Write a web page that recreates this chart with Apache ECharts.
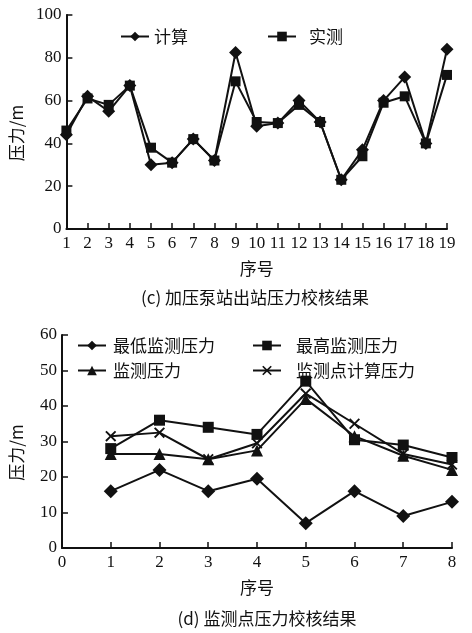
<!DOCTYPE html>
<html><head><meta charset="utf-8">
<script src="https://cdn.jsdelivr.net/npm/echarts@6/dist/echarts.min.js"></script>
<style>html,body{margin:0;padding:0;background:#fff}#c{width:472px;height:633px}</style>
</head><body><div id="c"></div>
<script>
// Chart (c)
const cX = [1,2,3,4,5,6,7,8,9,10,11,12,13,14,15,16,17,18,19];
const cCalc = [44,62,55,67,30,31,42,32,82.5,48,49.5,60,50,23,37,60,71,40,84];
const cMeas = [46,61,58,67,38,31,42,32,69,50,49.5,58,50,23,34,59,62,40,72];
const cNames = ['计算','实测'];
// Chart (d)
const dX = [1,2,3,4,5,6,7,8];
const dMin = [16,22,16,19.5,7,16,9,13];
const dMax = [28,36,34,32,47,30.5,29,25.5];
const dMon = [26.5,26.5,25,27.5,42,31.5,26,22];
const dCalc = [31.5,32.5,25,29.5,43.5,35,26.5,23.5];
const dNames = ['最低监测压力','最高监测压力','监测压力','监测点计算压力'];
const yName = '压力/m';
const xName = '序号';
const capC = '(c) 加压泵站出站压力校核结果';
const capD = '(d) 监测点压力校核结果';

const pair = (xs, ys) => xs.map((x,i)=>[x, ys[i]]);
const serif = "'Liberation Serif', 'DejaVu Serif', 'Times New Roman', serif";
const cjk = "'Noto Sans CJK SC', sans-serif";
const ink = '#111';
const X_SYM = 'path://M0,1.2 L1.2,0 L5,3.8 L8.8,0 L10,1.2 L6.2,5 L10,8.8 L8.8,10 L5,6.2 L1.2,10 L0,8.8 L3.8,5 Z';

function xAxis(gi, min, max){
  return {type:'value', gridIndex:gi, min, max, interval:1,
    name:xName, nameLocation:'middle', nameGap:31,
    nameTextStyle:{fontFamily:cjk, fontSize:17, color:ink},
    axisLine:{onZero:false, lineStyle:{color:ink, width:2}},
    axisTick:{inside:true, length:6, lineStyle:{color:ink, width:1.5}},
    axisLabel:{fontFamily:serif, fontSize:17, color:ink, margin:6},
    splitLine:{show:false}};
}
function yAxis(gi, min, max, interval){
  return {type:'value', gridIndex:gi, min, max, interval,
    name:yName, nameLocation:'middle', nameGap:37,
    nameTextStyle:{fontFamily:cjk, fontSize:17, color:ink, padding:[0,22,0,0]},
    axisLine:{show:true, lineStyle:{color:ink, width:2}},
    axisTick:{show:true, inside:true, length:6, lineStyle:{color:ink, width:1.5}},
    axisLabel:{fontFamily:serif, fontSize:17, color:ink, margin:5},
    splitLine:{show:false}};
}
function ser(name, gi, data, symbol, size){
  return {name, type:'line', xAxisIndex:gi, yAxisIndex:gi, data, symbol, symbolSize:size,
    lineStyle:{color:ink, width:2}, itemStyle:{color:ink, borderColor:ink, borderWidth:0},
    emphasis:{disabled:true}, animation:false, z: 3};
}
function leg(name, left, top, pad){
  return {data:[name], left, top, itemWidth:28, itemHeight:12, itemGap:5,
    textStyle:{fontFamily:cjk, fontSize:17, color:ink, padding:[0,0,0,pad]}, selectedMode:false};
}

const chart = echarts.init(document.getElementById('c'));
chart.setOption({
  backgroundColor:'#fff',
  animation:false,
  grid:[
    {left:61, top:15, right:25, height:214},
    {left:61, top:335, right:20, height:213}
  ],
  xAxis:[xAxis(0,1,19), xAxis(1,0,8)],
  yAxis:[yAxis(0,0,100,20), yAxis(1,0,60,10)],
  legend:[
    leg(cNames[0],115,23,0), leg(cNames[1],262,23,8),
    leg(dNames[0],72,332,2), leg(dNames[1],247,332,10),
    leg(dNames[2],72,357,2), leg(dNames[3],247,357,10)
  ],
  title:[
    {text:capC, left:250, textAlign:'center', top:284, textStyle:{fontFamily:cjk, fontSize:17, fontWeight:'normal', color:ink}},
    {text:capD, left:262, textAlign:'center', top:605, textStyle:{fontFamily:cjk, fontSize:17, fontWeight:'normal', color:ink}}
  ],
  series:[
    ser(cNames[0],0,pair(cX,cCalc),'diamond',13),
    ser(cNames[1],0,pair(cX,cMeas),'rect',10),
    ser(dNames[0],1,pair(dX,dMin),'diamond',14),
    ser(dNames[1],1,pair(dX,dMax),'rect',11),
    ser(dNames[2],1,pair(dX,dMon),'triangle',12),
    ser(dNames[3],1,pair(dX,dCalc),X_SYM,11)
  ]
});
</script></body></html>
